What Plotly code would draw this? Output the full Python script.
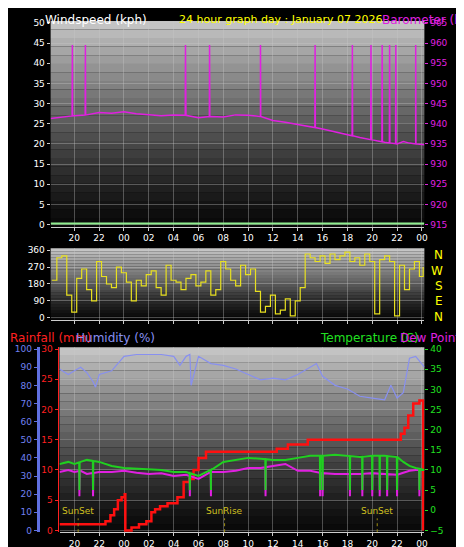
import plotly.graph_objects as go

# ---------- data ----------
baro_t = [18.1, 19, 20, 21, 22, 23, 24, 25, 26, 27, 28, 29, 30, 31, 32, 33, 34, 35, 36, 37, 38, 39, 40, 41, 42, 43, 44, 45, 46, 46.5, 47, 47.5, 48.2]
baro_v = [941.3, 941.6, 942, 942.2, 942.8, 942.6, 943, 942.5, 942.3, 942.0, 942.2, 942.1, 941.5, 941.8, 941.7, 942.2, 942.1, 941.8, 940.8, 940.4, 939.8, 939.3, 938.7, 938.0, 937.3, 936.6, 936.0, 935.4, 935.0, 935.6, 935.2, 935.0, 934.8]
baro_spike_t = [19.85, 20.9, 28.96, 30.9, 35.0, 39.4, 42.4, 43.9, 44.8, 45.4, 45.9, 47.5]
baro_spike_v = 959.5

wind_t = [18.1, 48.2]
wind_v = [0.3, 0.3]

dir_t = [18.2,18.6,19.0,19.4,19.8,20.2,20.6,21.0,21.4,21.8,22.2,22.6,23.0,23.4,23.8,24.2,24.6,25.0,25.4,25.8,26.2,26.6,27.0,27.4,27.8,28.2,28.6,29.0,29.4,29.8,30.2,30.6,31.0,31.4,31.8,32.2,32.6,33.0,33.4,33.8,34.2,34.6,35.0,35.4,35.8,36.2,36.6,37.0,37.4,37.8,38.2,38.6,39.0,39.4,39.8,40.2,40.6,41.0,41.4,41.8,42.2,42.6,43.0,43.4,43.8,44.2,44.6,45.0,45.4,45.8,46.2,46.6,47.0,47.4,47.8,48.1]
dir_v = [200,320,330,120,30,210,260,150,90,300,220,180,160,270,240,190,90,200,170,230,250,160,120,280,200,190,150,210,230,170,190,250,120,150,300,260,200,170,280,230,260,140,30,60,120,20,40,100,10,90,160,340,320,300,330,290,340,310,330,350,300,320,280,340,300,20,310,330,300,10,280,150,260,300,220,270]

hum_t = [18.8,19.5,20,20.5,21,21.5,21.7,22,23,24,25,26,27,28,28.5,29,29.3,29.4,30,31,32,33,34,35,36,37,38,39,39.5,40,41,42,42.5,43,44,45,45.5,46,46.5,47,47.5,48,48.2]
hum_v = [89,86,88,90,87,82,79,86,88,96,97,97,97,96,91,96,97,80,96,92,91,89,86,83,84,83,86,90,92,85,80,78,76,74,73,72,80,73,76,95,96,92,90]

rain_t = [18.8,22.0,22.5,22.9,23.2,23.5,23.8,24.05,24.1,24.6,25.2,25.8,26.2,26.5,26.9,27.5,28.3,28.8,29.3,29.6,30.0,30.6,36.0,36.3,37.0,37.2,38.6,38.8,46.0,46.3,46.6,46.9,47.3,47.8,48.0,48.05,48.1]
rain_v = [1,1,1.5,2.5,3.5,5,5.5,6,0,0.5,1,1.5,3,3.5,4,4.5,5.5,8,8.5,10,12,13,13,13.5,13.5,14.2,14.2,15,15,16,17,19,21,21.5,21.5,21.5,0]

temp_t = [18.8,19.5,20,20.5,21,22,23,24,25,26,27,28,29,30,31,32,33,34,35,36,37,38,39,40,41,42,43,44,45,46,46.5,47,47.5,48.2]
temp_v = [11.5,12,11.5,12,12.5,12,11,10.5,10.3,10.2,10,9.5,9.5,8.5,10,12,12.5,13,12.8,12.5,12.5,13,13.5,13.5,13.8,13.5,13.2,13.5,13.5,13.2,12,11,10.5,10]
dew_t = temp_t
dew_v = [9.5,10,9.5,9.8,9,9.5,9.5,9.8,9.3,9,9.2,8.5,8.8,7.8,9.5,9.5,9.8,10.5,10.5,11,11.5,9.8,9.8,9.2,9,9,9,9.2,9,8.8,9.3,9.8,10,10]
temp_spike_t = [20.4, 21.5, 29.3, 31.0, 35.4, 39.8, 40.0, 42.2, 43.2, 44.0, 44.6, 45.2, 46.0, 47.8]
temp_spike_v = 5.0
dew_spike_v = 3.5

xticks = [20,22,24,26,28,30,32,34,36,38,40,42,44,46,48]
xticklabels = ["20","22","00","02","04","06","08","10","12","14","16","18","20","22","00"]

# ---------- helpers ----------
def interp(ts, vs, t):
    for i in range(len(ts)-1):
        if ts[i] <= t <= ts[i+1]:
            f = (t-ts[i])/(ts[i+1]-ts[i]) if ts[i+1] != ts[i] else 0
            return vs[i] + f*(vs[i+1]-vs[i])
    return vs[-1]

def with_spikes(ts, vs, st, sv):
    pts = list(zip(ts, vs))
    for t in st:
        b = interp(ts, vs, t)
        pts += [(t-0.02, b), (t, sv), (t+0.02, b)]
    pts.sort()
    return [p[0] for p in pts], [p[1] for p in pts]

fig = go.Figure()
W, H = 464, 547
def fx(px): return px / W
def fy(py): return 1 - py / H

d1x = [fx(43), fx(420)]; d1y = [fy(218), fy(10)]
d2x = [fx(43), fx(420)]; d2y = [fy(312), fy(240)]
d3x = [fx(52), fx(420)]; d3y = [fy(527), fy(340)]

shapes = []
for xr, yr in [(d1x, d1y), (d2x, d2y), (d3x, d3y)]:
    n = 24
    for i in range(n):
        g = int(10 + 185 * (i / (n - 1)) ** 1.2)
        y0 = yr[0] + (yr[1]-yr[0]) * i / n
        y1 = yr[0] + (yr[1]-yr[0]) * (i+1) / n
        shapes.append(dict(type="rect", xref="paper", yref="paper", x0=xr[0], x1=xr[1], y0=y0, y1=y1,
                           fillcolor=f"rgb({g},{g},{g})", line_width=0, layer="below"))

bt, bv = with_spikes(baro_t, baro_v, baro_spike_t, baro_spike_v)
fig.add_trace(go.Scatter(x=wind_t, y=wind_v, xaxis="x", yaxis="y", mode="lines", line=dict(color="#90ee90", width=2)))
fig.add_trace(go.Scatter(x=bt, y=bv, xaxis="x", yaxis="y2", mode="lines", line=dict(color="#e020e0", width=1.5)))
fig.add_trace(go.Scatter(x=dir_t, y=dir_v, xaxis="x2", yaxis="y3", mode="lines", line=dict(color="#e8e020", width=1.2, shape="hv")))

fig.add_trace(go.Scatter(x=hum_t, y=hum_v, xaxis="x3", yaxis="y4", mode="lines", line=dict(color="#8890f0", width=1.2)))
tt, tv = with_spikes(temp_t, temp_v, temp_spike_t, temp_spike_v)
dt, dv = with_spikes(dew_t, dew_v, temp_spike_t, dew_spike_v)
fig.add_trace(go.Scatter(x=dt, y=dv, xaxis="x3", yaxis="y6", mode="lines", line=dict(color="#e020e0", width=2)))
fig.add_trace(go.Scatter(x=tt, y=tv, xaxis="x3", yaxis="y6", mode="lines", line=dict(color="#20d020", width=2)))
fig.add_trace(go.Scatter(x=rain_t, y=rain_v, xaxis="x3", yaxis="y5", mode="lines", line=dict(color="#ff1010", width=2.5, shape="hv")))

grid = "rgba(200,200,200,0.35)"
tf = dict(family="DejaVu Sans", size=9)
xcommon = dict(tickvals=xticks, ticktext=xticklabels, showgrid=True, gridcolor=grid, tickfont=dict(color="white", **tf),
               ticks="outside", ticklen=3, tickcolor="#ccc", zeroline=False, showline=True, linecolor="#ccc")
fig.update_layout(
    width=W, height=H, margin=dict(l=0, r=0, t=0, b=0), showlegend=False,
    paper_bgcolor="black", plot_bgcolor="rgba(0,0,0,0)", shapes=shapes,
    font=dict(family="DejaVu Sans"),
    xaxis=dict(domain=d1x, range=[18.1, 48.2], anchor="y", **xcommon),
    xaxis2=dict(domain=d2x, range=[18.1, 48.2], anchor="y3", **{**xcommon, "showticklabels": False}),
    xaxis3=dict(domain=d3x, range=[18.8, 48.2], anchor="y4", **xcommon),
    yaxis=dict(domain=d1y, range=[-0.5, 50.5], tickvals=list(range(0, 51, 5)), tickfont=dict(color="white", **tf),
               gridcolor=grid, zeroline=False, ticks="outside", ticklen=3, tickcolor="#ccc"),
    yaxis2=dict(overlaying="y", side="right", anchor="x", range=[914.5, 965.5], tickvals=list(range(915, 966, 5)),
                tickfont=dict(color="#e020e0", **tf), showgrid=False, ticks="outside", ticklen=3, tickcolor="#e020e0"),
    yaxis3=dict(domain=d2y, anchor="x2", range=[-10, 370], tickvals=[0, 90, 180, 270, 360],
                tickfont=dict(color="white", **tf), gridcolor=grid, zeroline=False, ticks="outside", ticklen=3, tickcolor="#ccc"),
    yaxis4=dict(domain=d3y, anchor="free", position=fx(30), range=[-1, 101], tickvals=list(range(0, 101, 10)),
                tickfont=dict(color="#7080f0", **tf), showgrid=False, zeroline=False, showline=True, linecolor="#6070e0",
                linewidth=3, ticks="outside", ticklen=3, tickcolor="#6070e0"),
    yaxis5=dict(overlaying="y4", anchor="free", position=fx(50), range=[-0.3, 30.3], tickvals=list(range(0, 31, 5)),
                tickfont=dict(color="#ff2020", **tf), showgrid=True, gridcolor=grid, zeroline=False, showline=True,
                linecolor="#ff2020", ticks="outside", ticklen=3, tickcolor="#ff2020"),
    yaxis6=dict(overlaying="y4", side="right", anchor="x3", range=[-5.45, 40.45], tickvals=list(range(-5, 41, 5)),
                tickfont=dict(color="#20e020", **tf), showgrid=False, zeroline=False, ticks="outside", ticklen=3, tickcolor="#20e020"),
)

ann = [
    dict(text="Windspeed (kph)", x=fx(35), y=fy(0), color="white", size=12),
    dict(text="24 hour graph day : January 07 2026", x=fx(170), y=fy(0), color="yellow", size=11),
    dict(text="Barometer (hpa)", x=fx(375), y=fy(0), color="#e020e0", size=12),
    dict(text="Rainfall (mm)", x=fx(0), y=fy(322), color="#ff2020", size=12),
    dict(text="Humidity (%)", x=fx(67), y=fy(322), color="#8890f0", size=12),
    dict(text="Temperature (C)", x=fx(313), y=fy(322), color="#20e020", size=12),
    dict(text="Dew Point (°C)", x=fx(393), y=fy(322), color="#e020e0", size=12),
]
for a in ann:
    fig.add_annotation(text=a["text"], x=a["x"], y=a["y"], xref="paper", yref="paper", xanchor="left", yanchor="top",
                       showarrow=False, font=dict(color=a["color"], size=a["size"], family="DejaVu Sans"))
for i, lab in enumerate(["N", "W", "S", "E", "N"]):
    fig.add_annotation(text=lab, x=fx(441), y=fy(247 + i * 15.5), xref="paper", yref="paper", showarrow=False,
                       font=dict(color="yellow", size=12, family="DejaVu Sans"))
for lab, t in [("SunSet", 20.3), ("SunRise", 32.1), ("SunSet", 44.4)]:
    fig.add_annotation(text=lab, x=t, y=2, xref="x3", yref="y5", yanchor="bottom", showarrow=False,
                       font=dict(color="#d0c020", size=9, family="DejaVu Sans"))
    fig.add_shape(type="line", xref="x3", yref="y5", x0=t, x1=t, y0=-0.3, y1=2, line=dict(color="#a09010", width=1, dash="dot"))

fig.write_html("out.html")
